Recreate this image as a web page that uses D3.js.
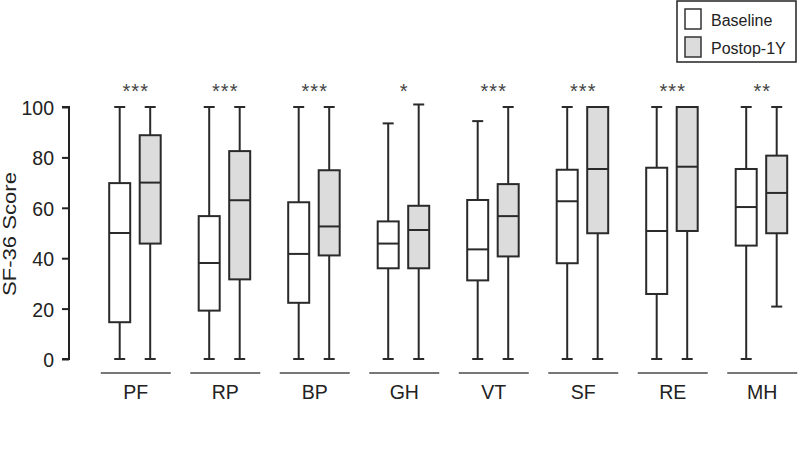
<!DOCTYPE html>
<html>
<head>
<meta charset="utf-8">
<script src="https://cdn.jsdelivr.net/npm/d3@7"></script>
<style>
  body { margin: 0; background: #fff; }
  svg { display: block; font-family: "Liberation Sans", Arial, sans-serif; }
</style>
</head>
<body>
<div id="chart"></div>
<script>
'use strict';
// SF-36 domains
var domains = ['PF', 'RP', 'BP', 'GH', 'VT', 'SF', 'RE', 'MH'];
var seriesNames = ['Baseline', 'Postop-1Y'];
var stars = ['***', '***', '***', '*', '***', '***', '***', '**'];
var yTicks = [0, 20, 40, 60, 80, 100];

// [min, q1, median, q3, max] per domain
var baseline = [
    [0, 14.6, 50, 69.8, 100],
    [0, 19.2, 38.1, 56.7, 100],
    [0, 22.3, 41.7, 62.2, 100],
    [0, 36, 45.8, 54.6, 93.5],
    [0, 31.2, 43.5, 63.1, 94.4],
    [0, 38, 62.6, 75.1, 100],
    [0, 25.8, 50.8, 75.9, 100],
    [0, 45, 60.3, 75.4, 100]
];
var postop = [
    [0, 45.8, 70, 88.8, 100],
    [0, 31.6, 63, 82.5, 100],
    [0, 41.1, 52.6, 74.9, 100],
    [0, 36, 51.2, 60.8, 101],
    [0, 40.7, 56.7, 69.4, 100],
    [0, 49.9, 75.4, 100, 100],
    [0, 50.8, 76.3, 100, 100],
    [20.8, 49.9, 65.9, 80.7, 100]
];
var fills = ['#ffffff', '#dcdcdc'];

var width = 800,
    height = 456;

var svg = d3.select('#chart').append('svg')
    .attr('width', width)
    .attr('height', height);

var y = d3.scaleLinear().domain([0, 100]).range([359, 107]);
var x0 = d3.scaleBand().domain(domains).range([91, 807]);
var x1 = d3.scalePoint().domain(seriesNames).range([28.7, 59.2]);
var boxW = 21,
    capW = 11;

// y axis
var yAxis = svg.append('g')
    .attr('transform', 'translate(69,0)')
    .call(d3.axisLeft(y).tickValues(yTicks).tickSize(7).tickPadding(8));
yAxis.select('.domain').attr('stroke', '#222').attr('stroke-width', 2).attr('d', 'M-7,' + y(100) + 'H0V' + y(0) + 'H-7');
yAxis.selectAll('.tick line').attr('stroke', '#222').attr('stroke-width', 2);
yAxis.selectAll('.tick text').attr('fill', '#222').style('font-size', '19.5px').attr('dy', '0.38em');

svg.append('text')
    .attr('transform', 'translate(16,' + 234 + ') rotate(-90)')
    .attr('text-anchor', 'middle')
    .attr('fill', '#222')
    .style('font-size', '19px')
    .attr('textLength', 124)
    .attr('lengthAdjust', 'spacingAndGlyphs')
    .text('SF-36 Score');

// group underline + labels
var groups = svg.selectAll('g.group').data(domains).enter().append('g')
    .attr('class', 'group')
    .attr('transform', function (d) { return 'translate(' + x0(d) + ',0)'; });

groups.append('line')
    .attr('x1', x0.bandwidth() / 2 - 35)
    .attr('x2', x0.bandwidth() / 2 + 35)
    .attr('y1', 373).attr('y2', 373)
    .attr('stroke', '#777').attr('stroke-width', 2);

groups.append('text')
    .attr('x', x0.bandwidth() / 2)
    .attr('y', 399)
    .attr('text-anchor', 'middle')
    .attr('fill', '#222')
    .style('font-size', '19.5px')
    .text(function (d) { return d; });

groups.append('text')
    .attr('x', x0.bandwidth() / 2)
    .attr('y', 98)
    .attr('text-anchor', 'middle')
    .attr('fill', '#444')
    .style('font-size', '20px')
    .style('letter-spacing', '1px')
    .text(function (d, i) { return stars[i]; });

// boxes
[baseline, postop].forEach(function (series, si) {
    groups.append('g')
        .attr('transform', 'translate(' + x1(seriesNames[si]) + ',0)')
        .each(function (d, i) {
            var s = series[i];
            var g = d3.select(this);
            var lineStyle = function (sel) {
                return sel.attr('stroke', '#2a2a2a').attr('stroke-width', 2);
            };
            g.append('line').attr('x1', 0).attr('x2', 0)
                .attr('y1', y(s[0])).attr('y2', y(s[4])).call(lineStyle);
            g.append('line').attr('x1', -capW / 2).attr('x2', capW / 2)
                .attr('y1', y(s[0])).attr('y2', y(s[0])).call(lineStyle);
            g.append('line').attr('x1', -capW / 2).attr('x2', capW / 2)
                .attr('y1', y(s[4])).attr('y2', y(s[4])).call(lineStyle);
            g.append('rect')
                .attr('x', -boxW / 2).attr('width', boxW)
                .attr('y', y(s[3])).attr('height', y(s[1]) - y(s[3]))
                .attr('fill', fills[si])
                .call(lineStyle);
            g.append('line').attr('x1', -boxW / 2).attr('x2', boxW / 2)
                .attr('y1', y(s[2])).attr('y2', y(s[2])).call(lineStyle);
        });
});

// legend
var legend = svg.append('g').attr('transform', 'translate(677,1)');
legend.append('rect')
    .attr('width', 119).attr('height', 61)
    .attr('fill', '#fff').attr('stroke', '#222').attr('stroke-width', 1.5);
seriesNames.forEach(function (name, i) {
    legend.append('rect')
        .attr('x', 8).attr('y', 8 + i * 28)
        .attr('width', 16).attr('height', 20)
        .attr('fill', fills[i]).attr('stroke', '#333').attr('stroke-width', 1.5);
    legend.append('text')
        .attr('x', 34).attr('y', 25 + i * 28)
        .attr('fill', '#222')
        .style('font-size', '16px')
        .text(name);
});
</script>
</body>
</html>
